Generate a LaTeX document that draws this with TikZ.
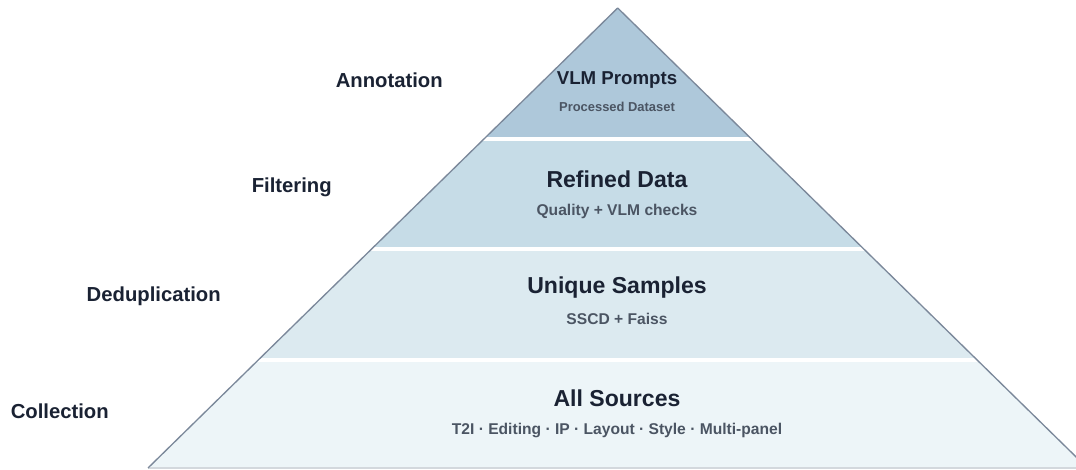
\documentclass[tikz,border=0pt]{standalone}
\usepackage{fontspec}
\setmainfont{Liberation Sans}
\definecolor{bandA}{HTML}{AEC8DA}
\definecolor{bandB}{HTML}{C6DCE7}
\definecolor{bandC}{HTML}{DCEAF0}
\definecolor{bandD}{HTML}{EDF5F8}
\definecolor{edgegray}{HTML}{7B889A}
\definecolor{basegray}{HTML}{D3D8DD}
\definecolor{ink}{HTML}{1A2233}
\definecolor{subink}{HTML}{4B5563}
\tikzset{
  title/.style={font=\bfseries\fontsize{17.3}{20}\selectfont, text=ink, inner sep=0pt},
  toptitle/.style={font=\bfseries\fontsize{14}{16}\selectfont, text=ink, inner sep=0pt},
  subtitle/.style={font=\bfseries\fontsize{11.7}{14}\selectfont, text=subink, inner sep=0pt},
  topsub/.style={font=\bfseries\fontsize{9.7}{12}\selectfont, text=subink, inner sep=0pt},
  stage/.style={font=\bfseries\fontsize{15.2}{18}\selectfont, text=ink, inner sep=0pt, anchor=east},
}
\begin{document}
\begin{tikzpicture}[x=0.75pt, y=-0.75pt]
  \useasboundingbox (0,0) rectangle (1076,470);
  % apex and base corners of the pyramid
  \coordinate (apex) at (617.7,8);
  \coordinate (bl) at (148,468);
  \coordinate (br) at (1087.4,468);
  \begin{scope}
    \clip (0,0) rectangle (1076,470);
    \begin{scope}
      \clip (apex) -- (bl) -- (br) -- cycle;
      \fill[bandA] (100,0) rectangle (1100,137);
      \fill[bandB] (100,141) rectangle (1100,247);
      \fill[bandC] (100,251) rectangle (1100,358);
      \fill[bandD] (100,362) rectangle (1100,470);
    \end{scope}
    \draw[draw=basegray, line width=1.2pt] (bl) -- (br);
    \draw[draw=edgegray, line width=1pt, line join=round] (bl) -- (apex) -- (br);
  \end{scope}

  % layer contents
  \node[toptitle] (vlm) at (617,80) {VLM Prompts};
  \node[topsub] (vlmsub) at (617,107) {Processed Dataset};
  \node[title] (refined) at (617,179) {Refined Data};
  \node[subtitle] (refinedsub) at (617,211) {Quality + VLM checks};
  \node[title] (unique) at (617,288) {Unique Samples};
  \node[subtitle] (uniquesub) at (617,319) {SSCD + Faiss};
  \node[title] (all) at (617,398) {All Sources};
  \node[subtitle] (allsub) at (617,431) {T2I · Editing · IP · Layout · Style · Multi-panel};

  % stage labels
  \node[stage] (annot) at (443,80) {Annotation};
  \node[stage] (filter) at (332,187) {Filtering};
  \node[stage] (dedup) at (221,296) {Deduplication};
  \node[stage] (collect) at (109,411) {Collection};
\end{tikzpicture}
\end{document}
